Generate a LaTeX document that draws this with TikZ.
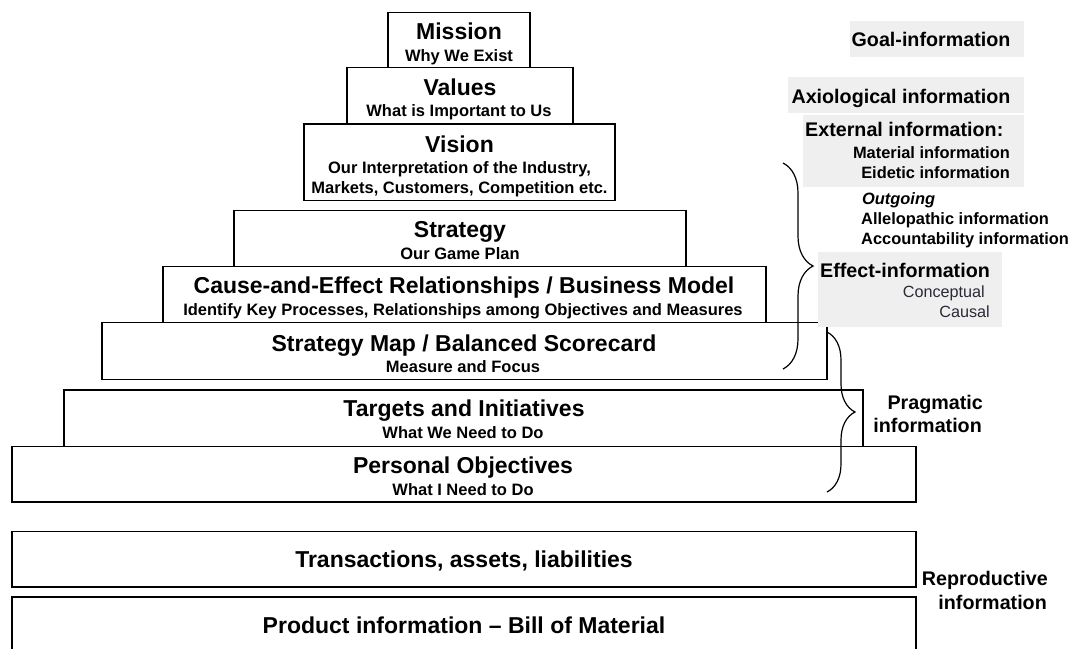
\documentclass[tikz,border=0pt]{standalone}
\usepackage{fontspec}
\setmainfont{Liberation Sans}
\usetikzlibrary{decorations.pathreplacing}
\definecolor{panel}{HTML}{EFEFEF}
\definecolor{softink}{HTML}{2A2A36}
\begin{document}
\begin{tikzpicture}[x=1pt,y=-1pt,
  tier/.style={draw, line width=1.6pt, fill=white, inner sep=0pt, outer sep=0pt},
  head/.style={anchor=base, inner sep=0pt, font=\fontsize{23}{27}\selectfont\bfseries},
  sub/.style={anchor=base, inner sep=0pt, font=\fontsize{16.5}{20}\selectfont\bfseries},
  side/.style={inner sep=0pt, font=\fontsize{19.7}{23}\selectfont\bfseries},
  sideS/.style={inner sep=0pt, font=\fontsize{16.4}{20}\selectfont\bfseries},
  sideR/.style={inner sep=0pt, text=softink, font=\fontsize{16.2}{20}\selectfont},
  bracket/.style={draw, line width=1.2pt, decorate}]

\clip (0,0) rectangle (1071,648);
\fill[white] (0,0) rectangle (1071,648);

% pyramid of levels
\node[tier, minimum width=142pt, minimum height=55pt]   (mission)  at (459,40)      {};
\node[tier, minimum width=226pt, minimum height=56.5pt] (values)   at (460,95.75)   {};
\node[tier, minimum width=311pt, minimum height=76.5pt] (vision)   at (459.5,162.25){};
\node[tier, minimum width=452pt, minimum height=56pt]   (strategy) at (460,238.5)   {};
\node[tier, minimum width=603pt, minimum height=56pt]   (cause)    at (464.5,294.5) {};
\node[tier, minimum width=725pt, minimum height=57pt]   (smap)     at (464.5,351)   {};
\node[tier, minimum width=799pt, minimum height=56.5pt] (targets)  at (463.5,418.25){};
\node[tier, minimum width=904pt, minimum height=55.5pt] (personal) at (464,474.25)  {};
\node[tier, minimum width=904pt, minimum height=55.5pt] (trans)    at (464,559.25)  {};
\node[tier, minimum width=904pt, minimum height=64pt]   (product)  at (464,629)     {};

% level texts
\node[head] (missionH) at (459,39) {Mission};
\node[sub]  (missionS) at (459,61) {Why We Exist};
\node[head] (valuesH) at (460,95) {Values};
\node[sub]  (valuesS) at (459,116) {What is Important to Us};
\node[head] (visionH) at (459.5,152) {Vision};
\node[sub]  (visionS1) at (459.5,173) {Our Interpretation of the Industry,};
\node[sub]  (visionS2) at (459.5,193) {Markets, Customers, Competition etc.};
\node[head] (strategyH) at (460,237) {Strategy};
\node[sub]  (strategyS) at (460,259) {Our Game Plan};
\node[head] (causeH) at (464,293) {Cause-and-Effect Relationships / Business Model};
\node[sub]  (causeS) at (463,315) {Identify Key Processes, Relationships among Objectives and Measures};
\node[head] (smapH) at (464,351) {Strategy Map / Balanced Scorecard};
\node[sub]  (smapS) at (463,372) {Measure and Focus};
\node[head] (targetsH) at (464,416) {Targets and Initiatives};
\node[sub]  (targetsS) at (463,438) {What We Need to Do};
\node[head] (personalH) at (463,473) {Personal Objectives};
\node[sub]  (personalS) at (463,495) {What I Need to Do};
\node[head] (transH) at (464,567) {Transactions, assets, liabilities};
\node[head] (productH) at (464,633) {Product information -- Bill of Material};

% information panels
\fill[panel] (850,21) rectangle (1024,57);
\fill[panel] (788,77) rectangle (1024,113);
\fill[panel] (803,115) rectangle (1024,187);
\fill[panel] (818,252) rectangle (1002,327);

\node[side, anchor=base] (goal) at (931,46) {Goal-information};
\node[side, anchor=base] (axio) at (901,103) {Axiological information};
\node[side, anchor=base west] (ext) at (805,136) {External information:};
\node[sideS, anchor=base east] (material) at (1010,158) {Material information};
\node[sideS, anchor=base east] (eidetic) at (1010,178) {Eidetic information};
\node[sideS, anchor=base west] (outgoing) at (862,204) {\itshape Outgoing};
\node[sideS, anchor=base west] (allelo) at (861,224) {Allelopathic information};
\node[sideS, anchor=base west] (account) at (861,244) {Accountability information};
\node[side, anchor=base west] (effect) at (820,277) {Effect-information};
\node[sideR, anchor=base east] (concept) at (985,297) {Conceptual};
\node[sideR, anchor=base east] (causal) at (990,317) {Causal};

\node[side, anchor=base east] (prag1) at (983,409) {Pragmatic};
\node[side, anchor=base east] (prag2) at (982,432) {information};
\node[side, anchor=base east] (repro1) at (1048,585) {Reproductive};
\node[side, anchor=base east] (repro2) at (1047,609) {information};

% braces
\coordinate (b1top) at (783,163);
\coordinate (b1bot) at (783,369);
\coordinate (b2top) at (827,332);
\coordinate (b2bot) at (827,492);
\draw[bracket, decoration={brace, amplitude=30pt}] (b1top) -- (b1bot);
\draw[bracket, decoration={brace, amplitude=28pt}] (b2top) -- (b2bot);
\end{tikzpicture}
\end{document}
